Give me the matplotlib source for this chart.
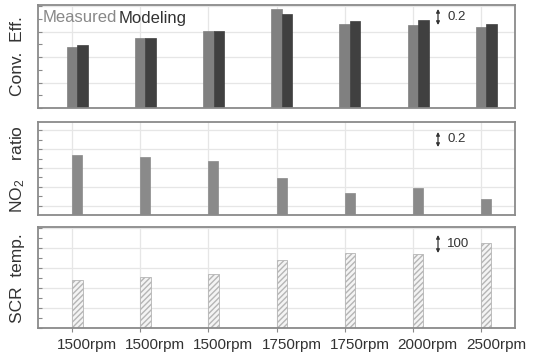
import matplotlib
matplotlib.use("Agg")
import matplotlib.pyplot as plt
import numpy as np
from matplotlib.transforms import ScaledTranslation
from matplotlib.ticker import MultipleLocator

categories = ["1500rpm", "1500rpm", "1500rpm", "1750rpm", "1750rpm", "2000rpm", "2500rpm"]
conv_measured = [0.48, 0.547, 0.606, 0.776, 0.659, 0.651, 0.638]
conv_modeling = [0.494, 0.547, 0.606, 0.737, 0.682, 0.690, 0.664]
no2_ratio = [0.319, 0.307, 0.289, 0.195, 0.119, 0.142, 0.085]
scr_temp = [238, 255, 272, 338, 375, 372, 425]

plt.rcParams["mathtext.fontset"] = "custom"
plt.rcParams["mathtext.rm"] = "Liberation Sans"
plt.rcParams["mathtext.it"] = "Liberation Sans"

W, H = 535, 357
fig = plt.figure(figsize=(W / 100, H / 100), dpi=100)

def rect(l, t, r, b):
    return [l / W, 1 - b / H, (r - l) / W, (b - t) / H]

ax1 = fig.add_axes(rect(38, 5, 515, 108))
ax2 = fig.add_axes(rect(38, 122, 515, 215))
ax3 = fig.add_axes(rect(38, 227, 515, 328))

x = np.arange(len(categories))
spine_c = "#8a8a8a"
grid_c = "#e6e6e6"
text_c = "#333333"
font = "Liberation Sans"

for ax in (ax1, ax2, ax3):
    ax.set_xlim(-0.5, 6.5)
    for s in ax.spines.values():
        s.set_color(spine_c)
        s.set_linewidth(1.3)
    ax.set_axisbelow(True)
    ax.grid(True, which="major", color=grid_c, linewidth=0.9)
    ax.set_xticks(x)
    ax.tick_params(axis="y", which="both", direction="in", length=3, color=spine_c,
                   labelleft=False, width=0.8)
    ax.tick_params(axis="x", which="both", length=0, labelbottom=False)

w = 0.155
ax1.bar(x, conv_measured, width=w, color="#808080", edgecolor="#808080", linewidth=0.5)
ax1.bar(x + w, conv_modeling, width=w, color="#404040", edgecolor="#404040", linewidth=0.5)
ax1.set_ylim(0, 0.81)
ax1.yaxis.set_major_locator(MultipleLocator(0.2))
ax1.yaxis.set_minor_locator(MultipleLocator(0.1))

ax2.bar(x, no2_ratio, width=0.147, align="edge", color="#8a8a8a", edgecolor="#8a8a8a", linewidth=0.5)
ax2.set_ylim(0, 0.495)
ax2.set_yticks([0.05, 0.15, 0.25, 0.35, 0.45])
ax2.set_yticks([0.1, 0.2, 0.3, 0.4], minor=True)

ax3.bar(x, scr_temp, width=0.155, align="edge", color="#f4f4f4", edgecolor="#b5b5b5",
        hatch="//////", linewidth=0.6)
ax3.set_ylim(0, 505)
ax3.yaxis.set_major_locator(MultipleLocator(100))
ax3.yaxis.set_minor_locator(MultipleLocator(50))
ax3.tick_params(axis="x", which="major", direction="out", length=3, color=spine_c,
                labelbottom=True, labelsize=11, labelcolor=text_c, pad=4)
ax3.set_xticklabels(categories, fontfamily=font)
off = ScaledTranslation(15 / 100, 0, fig.dpi_scale_trans)
for lab in ax3.get_xticklabels():
    lab.set_transform(lab.get_transform() + off)

# y labels
fig.text(18 / W, 1 - 56 / H, "Conv.  Eff.", rotation=90, ha="center", va="center",
         fontsize=12.5, color=text_c, fontfamily=font)
fig.text(18 / W, 1 - 169 / H, r"NO$_\mathrm{2}$    ratio", rotation=90, ha="center", va="center",
         fontsize=12.5, color=text_c, fontfamily=font)
fig.text(18 / W, 1 - 278 / H, "SCR  temp.", rotation=90, ha="center", va="center",
         fontsize=12.5, color=text_c, fontfamily=font)

# legend text
fig.text(43 / W, 1 - 18 / H, "Measured", ha="left", va="center", fontsize=12,
         color="#888888", fontfamily=font)
fig.text(119 / W, 1 - 18 / H, "Modeling", ha="left", va="center", fontsize=12,
         color="#333333", fontfamily=font)

# scale indicators
def scale_mark(ax, top_px, bot_px, ax_top, ax_bot, label):
    hgt = ax_bot - ax_top
    y0 = (ax_bot - bot_px) / hgt
    y1 = (ax_bot - top_px) / hgt
    xa = (438 - 38) / 477
    ax.annotate("", xy=(xa, y1), xytext=(xa, y0), xycoords="axes fraction",
                arrowprops=dict(arrowstyle="<|-|>", color=text_c, lw=0.9,
                                mutation_scale=5, shrinkA=0, shrinkB=0))
    ax.text((447 - 38) / 477, (y0 + y1) / 2, label, ha="left", va="center",
            fontsize=9.5, color=text_c, fontfamily=font, transform=ax.transAxes)

scale_mark(ax1, 9, 25, 5, 108, "0.2")
scale_mark(ax2, 132, 147, 122, 215, "0.2")
scale_mark(ax3, 235, 253, 227, 328, "100")

fig.savefig("out.png", dpi=100)
